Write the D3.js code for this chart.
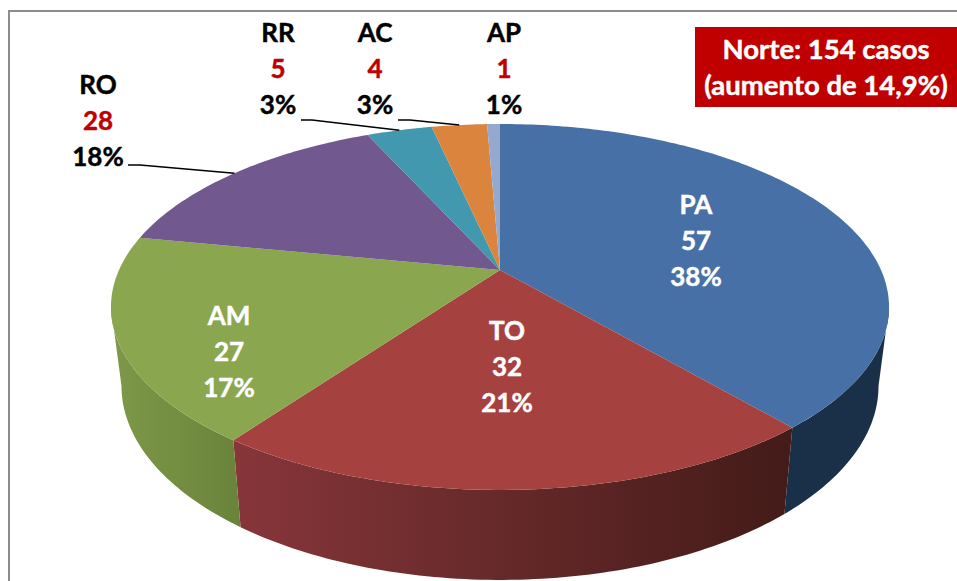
<!DOCTYPE html>
<html>
<head>
<meta charset="utf-8">
<script src="https://cdn.jsdelivr.net/npm/d3@7"></script>
<style>
  html, body { margin: 0; padding: 0; background: #fff; overflow: hidden; }
  text { font-family: Lato, "Open Sans", sans-serif; font-weight: 700; stroke-width: 0.45px; }
</style>
</head>
<body>
<svg id="chart" width="957" height="581"></svg>
<script>
// values as printed on the chart
const states = ["PA", "TO", "AM", "RO", "RR", "AC", "AP"];
const cases = [57, 32, 27, 28, 5, 4, 1];
const percents = ["38%", "21%", "17%", "18%", "3%", "3%", "1%"];
// slice sizes as actually drawn (% of the circle), they differ a bit from the printed ones
const drawnShares = [38.75, 21.2, 18.1, 15.2, 3.3, 2.8, 0.65];
const topColors = ["#4770a6", "#a5423f", "#8aa64e", "#71588f", "#4198af", "#db843d", "#93a9cf"];
const wallLeft = ["#1a2f48", "#87363a", "#7d9848", "#5c4774", "#35798e", "#b16a30", "#7788a8"];
const wallRight = ["#1a2f48", "#431b18", "#6a833b", "#5c4774", "#35798e", "#b16a30", "#7788a8"];
const title = ["Norte: 154 casos", "(aumento de 14,9%)"];

// label centres, first line
const labelPos = [[696, 205], [507, 331], [229, 316], [98, 85], [278, 33], [375, 33], [504, 33]];
const insideLabel = [true, true, true, false, false, false, false];
// where the leader line starts, only for the small outer labels
const leaderStart = { RO: [128, 165, 140], RR: [301, 120, 312], AC: [398, 120, 410] };

const svg = d3.select("#chart");
const defs = svg.append("defs");

// frame
svg.append("path")
    .attr("d", "M9,581V11H957")
    .attr("fill", "none")
    .attr("stroke", "#8c8c8c")
    .attr("stroke-width", 2);

// perspective view of a flat disc
const tilt = 0.202;
const xScale = d3.scaleLinear().domain([-1, 1]).range([119, 881]);
const yScale = d3.scaleLinear().domain([-1, 1]).range([94.5, 445.5]);

function project(angle) {
    const u = Math.sin(angle), v = -Math.cos(angle);
    const w = 1 - tilt * v;
    return [xScale(u / w), yScale(v / w)];
}
function projectBottom(angle) {
    const p = project(angle);
    return [500 + 0.973 * (p[0] - 500), 580 + 1.06 * (p[1] - 490)];
}
function arcAngles(a0, a1) {
    const n = Math.max(2, Math.ceil((a1 - a0) * 60));
    return d3.range(n + 1).map(i => a0 + (a1 - a0) * i / n);
}

const line = d3.line();
const slices = d3.pie().sort(null).value(d => d)(drawnShares);

// only the front of the cylinder shows, it starts where the outline turns back
const frontStart = Math.acos(-tilt);
const frontEnd = 2 * Math.PI - frontStart;

slices.forEach((d, i) => {
    const a0 = Math.max(d.startAngle, frontStart);
    const a1 = Math.min(d.endAngle, frontEnd);
    if (a1 <= a0) return;

    const grad = defs.append("linearGradient")
        .attr("id", "wall-" + i)
        .attr("gradientUnits", "userSpaceOnUse")
        .attr("x1", i === 2 ? 115 : 233).attr("x2", i === 2 ? 240 : 790)
        .attr("y1", 0).attr("y2", 0);
    grad.append("stop").attr("offset", 0).attr("stop-color", wallLeft[i]);
    grad.append("stop").attr("offset", 1).attr("stop-color", wallRight[i]);

    const angles = arcAngles(a0, a1);
    const pts = angles.map(project).concat(angles.slice().reverse().map(projectBottom));
    svg.append("path")
        .attr("d", line(pts) + "Z")
        .attr("fill", `url(#wall-${i})`);
});

svg.append("g").selectAll("path")
    .data(slices)
    .enter().append("path")
    .attr("d", d => line([[xScale(0), yScale(0)]].concat(arcAngles(d.startAngle, d.endAngle).map(project))) + "Z")
    .attr("fill", (d, i) => topColors[i]);

// leader lines
states.forEach((s, i) => {
    if (!leaderStart[s]) return;
    const d = slices[i];
    const st = leaderStart[s];
    const end = project((d.startAngle + d.endAngle) / 2);
    svg.append("path")
        .attr("d", line([[st[0], st[1]], [st[2], st[1]], end]))
        .attr("fill", "none")
        .attr("stroke", "#000")
        .attr("stroke-width", 1.5);
});

// labels
states.forEach((s, i) => {
    const x = labelPos[i][0], y = labelPos[i][1];
    const main = insideLabel[i] ? "#fff" : "#000";
    const rows = [[s, main], [cases[i], insideLabel[i] ? "#fff" : "#c00000"], [percents[i], main]];
    rows.forEach((r, k) => {
        svg.append("text")
            .attr("x", x)
            .attr("y", y + k * 36 + 9)
            .attr("text-anchor", "middle")
            .attr("font-size", 26)
            .attr("fill", r[1])
            .attr("stroke", r[1])
            .text(r[0]);
    });
});

// red box
svg.append("rect")
    .attr("x", 695).attr("y", 27)
    .attr("width", 262).attr("height", 80)
    .attr("fill", "#c00000");
title.forEach((t, k) => {
    svg.append("text")
        .attr("x", 826)
        .attr("y", 59 + k * 36)
        .attr("text-anchor", "middle")
        .attr("font-size", 27.5)
        .attr("fill", "#fff")
        .attr("stroke", "#fff")
        .text(t);
});
</script>
</body>
</html>
